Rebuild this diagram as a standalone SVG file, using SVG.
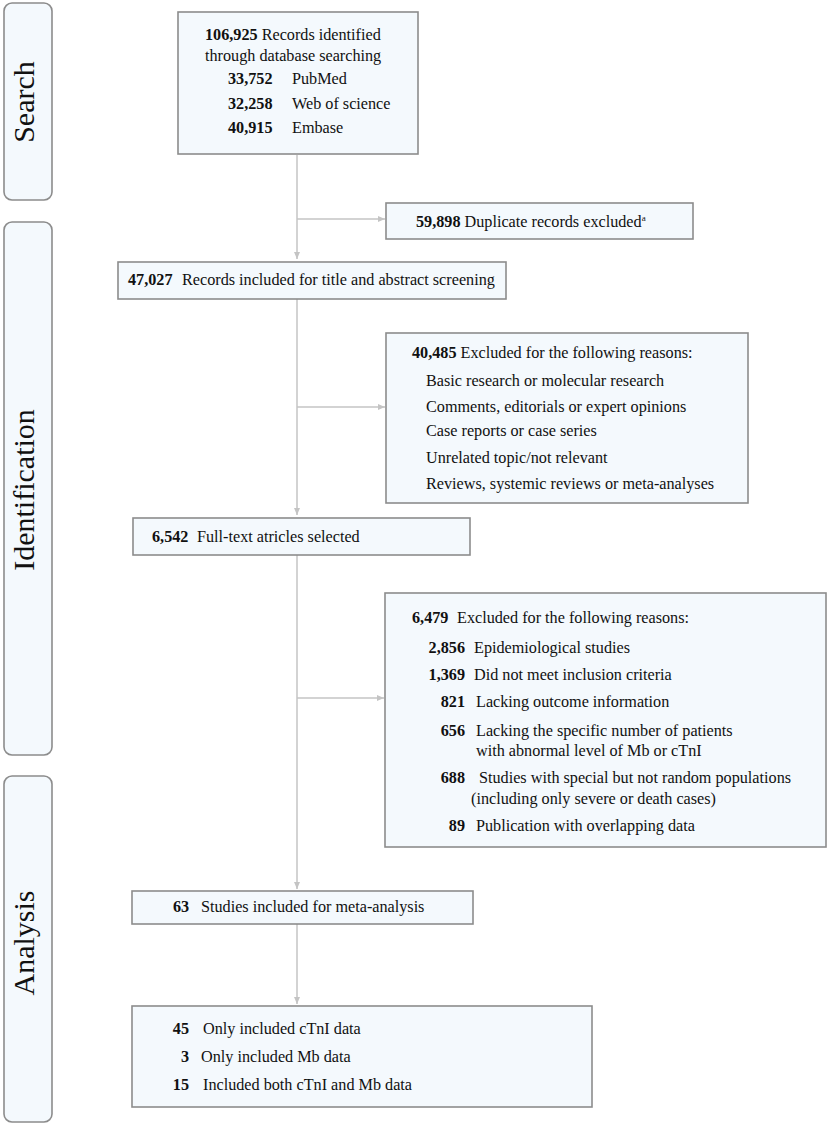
<svg xmlns="http://www.w3.org/2000/svg" width="829" height="1127" viewBox="0 0 829 1127">
<style>
.box{fill:#f4f9fd;stroke:#8c8c8c;stroke-width:1.6}
.side{fill:#f4f9fd;stroke:#8c8c8c;stroke-width:1.6}
.b{font-weight:bold}
.con{stroke:#c4c4c4;stroke-width:1.5;fill:none}
</style>
<defs>
<marker id="ah" markerWidth="8" markerHeight="8" refX="7" refY="4" orient="auto" markerUnits="userSpaceOnUse">
<path d="M0,1 L7,4 L0,7 Z" fill="#c4c4c4"/>
</marker>
</defs>
<rect width="829" height="1127" fill="#fff"/>
<g font-family="Liberation Serif" font-size="16.2" fill="#111">
<g id="stage-search">
<rect class="side" x="4" y="3" width="48" height="197" rx="8"/>
<text font-size="30" transform="translate(34,102) rotate(-90)" text-anchor="middle">Search</text>
</g>
<g id="stage-identification">
<rect class="side" x="4" y="222" width="48" height="533" rx="8"/>
<text font-size="30" transform="translate(34,490) rotate(-90)" text-anchor="middle">Identification</text>
</g>
<g id="stage-analysis">
<rect class="side" x="4" y="776" width="48" height="346" rx="8"/>
<text font-size="30" transform="translate(34,943) rotate(-90)" text-anchor="middle">Analysis</text>
</g>
<g id="connectors">
<line class="con" x1="297" y1="155" x2="297" y2="259" marker-end="url(#ah)"/>
<line class="con" x1="297" y1="219" x2="385" y2="219" marker-end="url(#ah)"/>
<line class="con" x1="297" y1="299" x2="297" y2="515" marker-end="url(#ah)"/>
<line class="con" x1="297" y1="407" x2="385" y2="407" marker-end="url(#ah)"/>
<line class="con" x1="297" y1="555" x2="297" y2="889" marker-end="url(#ah)"/>
<line class="con" x1="297" y1="698" x2="384" y2="698" marker-end="url(#ah)"/>
<line class="con" x1="297" y1="924" x2="297" y2="1004" marker-end="url(#ah)"/>
</g>
<g id="n-identified">
<rect class="box" x="178" y="12" width="240" height="142"/>
<text x="205" y="40"><tspan class="b">106,925</tspan> Records identified</text>
<text x="205" y="61">through database searching</text>
<text x="228" y="84" class="b">33,752</text><text x="292" y="84">PubMed</text>
<text x="228" y="109" class="b">32,258</text><text x="292" y="109">Web of science</text>
<text x="228" y="133" class="b">40,915</text><text x="292" y="133">Embase</text>
</g>
<g id="n-duplicates">
<rect class="box" x="386" y="203" width="307" height="36"/>
<text x="416" y="227"><tspan class="b">59,898</tspan> Duplicate records excluded<tspan font-size="9" dy="-6">a</tspan></text>
</g>
<g id="n-screening">
<rect class="box" x="118" y="262" width="388" height="37"/>
<text x="128" y="285" class="b">47,027</text><text x="182" y="285">Records included for title and abstract screening</text>
</g>
<g id="n-excluded1">
<rect class="box" x="386" y="333" width="362" height="170"/>
<text x="412" y="358"><tspan class="b">40,485</tspan> Excluded for the following reasons:</text>
<text x="426" y="386">Basic research or molecular research</text>
<text x="426" y="412">Comments, editorials or expert opinions</text>
<text x="426" y="436">Case reports or case series</text>
<text x="426" y="463">Unrelated topic/not relevant</text>
<text x="426" y="489">Reviews, systemic reviews or meta-analyses</text>
</g>
<g id="n-fulltext">
<rect class="box" x="133" y="518" width="337" height="37"/>
<text x="152" y="542" class="b">6,542</text><text x="197" y="542">Full-text atricles selected</text>
</g>
<g id="n-excluded2">
<rect class="box" x="385" y="593" width="441" height="254"/>
<text x="412" y="623" class="b">6,479</text><text x="457" y="623">Excluded for the following reasons:</text>
<text x="465" y="653" class="b" text-anchor="end">2,856</text><text x="474" y="653">Epidemiological studies</text>
<text x="465" y="680" class="b" text-anchor="end">1,369</text><text x="474" y="680">Did not meet inclusion criteria</text>
<text x="465" y="707" class="b" text-anchor="end">821</text><text x="476" y="707">Lacking outcome information</text>
<text x="465" y="736" class="b" text-anchor="end">656</text><text x="476" y="736">Lacking the specific number of patients</text>
<text x="476" y="756">with abnormal level of Mb or cTnI</text>
<text x="465" y="783" class="b" text-anchor="end">688</text><text x="479" y="783">Studies with special but not random populations</text>
<text x="471" y="804">(including only severe or death cases)</text>
<text x="465" y="831" class="b" text-anchor="end">89</text><text x="476" y="831">Publication with overlapping data</text>
</g>
<g id="n-meta">
<rect class="box" x="132" y="891" width="341" height="33"/>
<text x="173" y="912" class="b">63</text><text x="201" y="912">Studies included for meta-analysis</text>
</g>
<g id="n-data">
<rect class="box" x="132" y="1006" width="460" height="101"/>
<text x="189" y="1034" class="b" text-anchor="end">45</text><text x="203" y="1034">Only included cTnI data</text>
<text x="189" y="1062" class="b" text-anchor="end">3</text><text x="201" y="1062">Only included Mb data</text>
<text x="189" y="1090" class="b" text-anchor="end">15</text><text x="203" y="1090">Included both cTnI and Mb data</text>
</g>
</g>
</svg>
